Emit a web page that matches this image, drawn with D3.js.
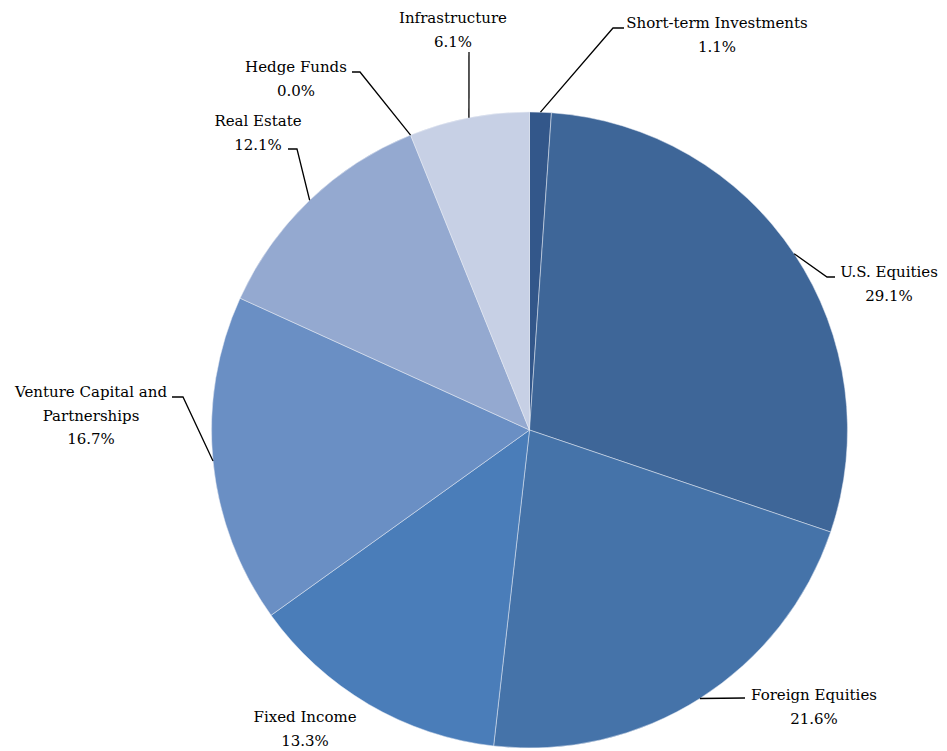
<!DOCTYPE html>
<html>
<head>
<meta charset="utf-8">
<script src="https://cdn.jsdelivr.net/npm/d3@7"></script>
<style>
  body { margin: 0; background: #fff; }
  svg { display: block; }
</style>
</head>
<body>
<svg id="chart" width="947" height="751"></svg>
<script>
// slices clockwise from 12 o'clock
const categories = ["Short-term Investments", "U.S. Equities", "Foreign Equities", "Fixed Income",
                    "Venture Capital and Partnerships", "Real Estate", "Hedge Funds", "Infrastructure"];
const shares = [1.1, 29.1, 21.6, 13.3, 16.7, 12.1, 0.0, 6.1];
const sliceColors = ["#33578a", "#3e6698", "#4573a9", "#4a7db9", "#6a8fc4", "#94a9d0", "#b0bedb", "#c7d0e5"];

// label text lines, anchor (center x, first baseline) and leader elbow points
const labelLines = [
    ["Short-term Investments"], ["U.S. Equities"], ["Foreign Equities"], ["Fixed Income"],
    ["Venture Capital and", "Partnerships"], ["Real Estate"], ["Hedge Funds"], ["Infrastructure"]
];
const labelLayout = [
    { x: 717, y: 28,  elbow: [[613, 28], [624, 28]] },
    { x: 889, y: 277, elbow: [[827, 277], [835, 277]] },
    { x: 814, y: 700, elbow: [[745, 698]] },
    { x: 305, y: 722, elbow: null },
    { x: 91,  y: 397, elbow: [[183, 397], [172, 397]] },
    { x: 258, y: 126, elbow: [[297, 149], [288, 149]] },
    { x: 296, y: 72,  elbow: [[360, 72], [352, 72]] },
    { x: 453, y: 23,  elbow: [[469, 52]] }
];

const cx = 529.5, cy = 430, radius = 318, lineGap = 23.5;
const fontFamily = "DejaVu Serif, Liberation Serif, serif";

const data = categories.map((c, i) => ({ name: c, value: shares[i], color: sliceColors[i], lines: labelLines[i], layout: labelLayout[i] }));

const svg = d3.select("#chart");
const g = svg.append("g").attr("transform", `translate(${cx},${cy})`);

const pie = d3.pie().value(d => d.value).sort(null).startAngle(0).endAngle(2 * Math.PI);
const arc = d3.arc().innerRadius(0).outerRadius(radius);
const arcs = pie(data);

g.selectAll("path.slice")
    .data(arcs.filter(d => d.data.value > 0))
    .join("path")
    .attr("class", "slice")
    .attr("d", arc)
    .attr("fill", d => d.data.color)
    .attr("stroke", "#e8edf5")
    .attr("stroke-width", 0.5);

// leader lines from slice edge at mid angle
const edgePoint = d => {
    const a = (d.startAngle + d.endAngle) / 2;
    return [cx + radius * Math.sin(a), cy - radius * Math.cos(a)];
};

svg.selectAll("polyline.leader")
    .data(arcs.filter(d => d.data.layout.elbow))
    .join("polyline")
    .attr("class", "leader")
    .attr("points", d => [edgePoint(d)].concat(d.data.layout.elbow).map(p => p.join(",")).join(" "))
    .attr("fill", "none")
    .attr("stroke", "#000")
    .attr("stroke-width", 1.3);

// labels
const labels = svg.selectAll("text.label")
    .data(arcs)
    .join("text")
    .attr("class", "label")
    .style("font-family", fontFamily)
    .attr("font-size", 15)
    .attr("fill", "#000")
    .attr("text-anchor", "middle")
    .attr("x", d => d.data.layout.x)
    .attr("y", d => d.data.layout.y);

labels.each(function(d) {
    const t = d3.select(this);
    const lines = d.data.lines.concat([d.data.value.toFixed(1) + "%"]);
    lines.forEach((s, i) => {
        t.append("tspan")
            .attr("x", d.data.layout.x)
            .attr("dy", i === 0 ? 0 : lineGap)
            .text(s);
    });
});
</script>
</body>
</html>
